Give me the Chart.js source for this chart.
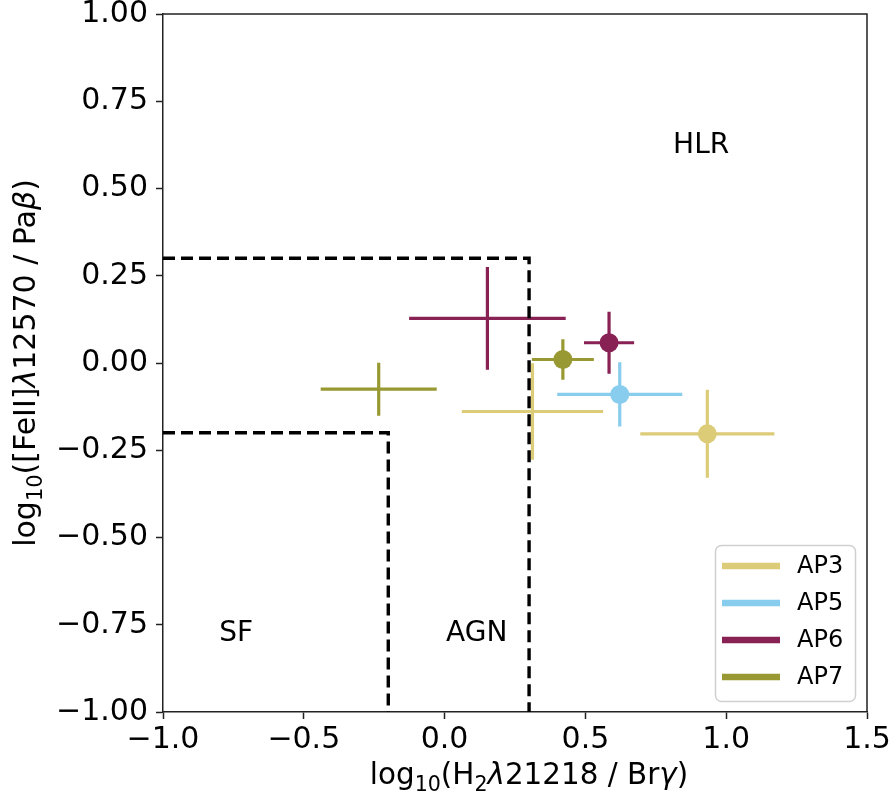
<!DOCTYPE html>
<html><head><meta charset="utf-8">
<script src="https://cdn.jsdelivr.net/npm/chart.js@4.4.0/dist/chart.umd.min.js"></script>
<style>html,body{margin:0;padding:0;background:#fff}#wrap{width:896px;height:800px}</style>
</head><body><div id="wrap"><canvas id="c" width="896" height="800"></canvas></div>
<script>
// Series: aperture measurements (value, 1-sigma error); first point of each has a marker
const seriesNames = ['AP3', 'AP5', 'AP6', 'AP7'];
const seriesColors = ['#DDCC77', '#88CCEE', '#882255', '#999933'];

const ap3X = [0.933, 0.312];
const ap3Y = [-0.203, -0.139];
const ap3XErr = [0.238, 0.251];
const ap3YErr = [0.126, 0.138];
const ap3Marker = [true, false];

const ap5X = [0.622];
const ap5Y = [-0.090];
const ap5XErr = [0.222];
const ap5YErr = [0.092];
const ap5Marker = [true];

const ap6X = [0.584, 0.152];
const ap6Y = [0.058, 0.128];
const ap6XErr = [0.089, 0.278];
const ap6YErr = [0.089, 0.147];
const ap6Marker = [true, false];

const ap7X = [0.420, -0.234];
const ap7Y = [0.010, -0.075];
const ap7XErr = [0.110, 0.206];
const ap7YErr = [0.058, 0.076];
const ap7Marker = [true, false];

// Classification boundaries
const agnBoundaryX = [-1.0, 0.3, 0.3];
const agnBoundaryY = [0.3, 0.3, -1.0];
const sfBoundaryX = [-1.0, -0.2, -0.2];
const sfBoundaryY = [-0.2, -0.2, -1.0];

// Region labels
const regionNames = ['HLR', 'SF', 'AGN'];
const regionX = [0.911, -0.740, 0.114];
const regionY = [0.624, -0.776, -0.776];

// Axis ticks
const xTickValues = [-1.0, -0.5, 0.0, 0.5, 1.0, 1.5];
const yTickValues = [-1.0, -0.75, -0.5, -0.25, 0.0, 0.25, 0.5, 0.75, 1.0];

const FONT = 'DejaVu Sans';
const TICK_SIZE = 30;

const seriesX = [ap3X, ap5X, ap6X, ap7X];
const seriesY = [ap3Y, ap5Y, ap6Y, ap7Y];
const seriesXErr = [ap3XErr, ap5XErr, ap6XErr, ap7XErr];
const seriesYErr = [ap3YErr, ap5YErr, ap6YErr, ap7YErr];
const seriesMarker = [ap3Marker, ap5Marker, ap6Marker, ap7Marker];

const minus = s => s.replace('-', '\u2212');

const datasets = [];
function boundary(xs, ys) {
  return {
    type: 'scatter', showLine: true, fill: false,
    data: xs.map((x, i) => ({x, y: ys[i]})),
    borderColor: '#000', borderWidth: 3.4, borderDash: [12, 6],
    pointRadius: 0, order: 2
  };
}
datasets.push(boundary(agnBoundaryX, agnBoundaryY));
datasets.push(boundary(sfBoundaryX, sfBoundaryY));
seriesNames.forEach((name, s) => {
  datasets.push({
    type: 'scatter', label: name,
    data: seriesX[s].map((x, i) => ({x, y: seriesY[s][i], xErr: seriesXErr[s][i], yErr: seriesYErr[s][i]})),
    backgroundColor: seriesColors[s], borderColor: seriesColors[s],
    pointRadius: seriesMarker[s].map(m => m ? 9.5 : 0),
    pointHoverRadius: seriesMarker[s].map(m => m ? 9.5 : 0),
    pointBorderWidth: 0, order: 1, errorSeries: true
  });
});

// Cross-shaped error bars for each measurement
const errorBars = {
  id: 'errorBars',
  beforeDatasetsDraw(chart) {
    const {ctx, scales: {x: xs, y: ys}} = chart;
    ctx.save();
    ctx.lineWidth = 3.2;
    ctx.lineCap = 'butt';
    chart.data.datasets.forEach(ds => {
      if (!ds.errorSeries) return;
      ctx.strokeStyle = ds.borderColor;
      ds.data.forEach(p => {
        const cx = xs.getPixelForValue(p.x), cy = ys.getPixelForValue(p.y);
        ctx.beginPath();
        ctx.moveTo(xs.getPixelForValue(p.x - p.xErr), cy);
        ctx.lineTo(xs.getPixelForValue(p.x + p.xErr), cy);
        ctx.moveTo(cx, ys.getPixelForValue(p.y + p.yErr));
        ctx.lineTo(cx, ys.getPixelForValue(p.y - p.yErr));
        ctx.stroke();
      });
    });
    ctx.restore();
  }
};

function drawRich(ctx, parts, size, x, y, align) {
  // parts: [text, kind] with kind '' | 'sub' | 'it'
  const fontFor = k => (k === 'it' ? 'italic ' : '') + (k === 'sub' ? Math.round(size * 0.7) : size) + 'px "' + FONT + '"';
  let w = 0;
  parts.forEach(([t, k]) => { ctx.font = fontFor(k); w += ctx.measureText(t).width; });
  let cx = align === 'center' ? x - w / 2 : x;
  ctx.textBaseline = 'alphabetic';
  ctx.textAlign = 'left';
  parts.forEach(([t, k]) => {
    ctx.font = fontFor(k);
    ctx.fillText(t, cx, k === 'sub' ? y + size * 0.22 : y);
    cx += ctx.measureText(t).width;
  });
  return w;
}

const annotations = {
  id: 'annotations',
  afterDraw(chart) {
    const {ctx, chartArea: a, scales: {x: xs, y: ys}} = chart;
    ctx.save();
    // top and right spines
    ctx.strokeStyle = '#222';
    ctx.lineWidth = 1.5;
    ctx.beginPath();
    ctx.moveTo(a.left, a.top); ctx.lineTo(a.right, a.top); ctx.lineTo(a.right, a.bottom);
    ctx.stroke();

    // region labels
    ctx.fillStyle = '#000';
    ctx.font = '28px "' + FONT + '"';
    ctx.textAlign = 'center';
    ctx.textBaseline = 'middle';
    regionNames.forEach((t, i) => ctx.fillText(t, xs.getPixelForValue(regionX[i]), ys.getPixelForValue(regionY[i])));

    // axis titles
    const xTitle = [['log', ''], ['10', 'sub'], ['(H', ''], ['2', 'sub'], ['\u03bb', 'it'], ['21218 / Br', ''], ['\u03b3', 'it'], [')', '']];
    ctx.save();
    ctx.translate((a.left + a.right) / 2 + 14, 784);
    ctx.scale(0.98, 1);
    drawRich(ctx, xTitle, 30, 0, 0, 'center');
    ctx.restore();

    const yTitle = [['log', ''], ['10', 'sub'], ['([FeII]', ''], ['\u03bb', 'it'], ['12570 / Pa', ''], ['\u03b2', 'it'], [')', '']];
    ctx.save();
    ctx.translate(35, (a.top + a.bottom) / 2);
    ctx.rotate(-Math.PI / 2);
    drawRich(ctx, yTitle, 30, 0, 0, 'center');
    ctx.restore();

    // legend
    const lx = 715.5, ly = 545.5, lw = 140, lh = 156, r = 6;
    ctx.fillStyle = 'rgba(255,255,255,0.8)';
    ctx.strokeStyle = '#d0d0d0';
    ctx.lineWidth = 1.5;
    ctx.beginPath();
    ctx.roundRect(lx, ly, lw, lh, r);
    ctx.fill(); ctx.stroke();
    seriesNames.forEach((n, i) => {
      const yy = 566 + i * 37;
      ctx.strokeStyle = seriesColors[i];
      ctx.lineWidth = 6.5;
      ctx.beginPath(); ctx.moveTo(722, yy); ctx.lineTo(780, yy); ctx.stroke();
      ctx.fillStyle = '#000';
      ctx.font = '24px "' + FONT + '"';
      ctx.textAlign = 'left';
      ctx.textBaseline = 'middle';
      ctx.fillText(n, 797, yy + 1);
    });
    ctx.restore();
  }
};

new Chart(document.getElementById('c'), {
  type: 'scatter',
  data: {datasets},
  options: {
    responsive: false, animation: false,
    layout: {padding: {left: 0, top: 14, right: 29, bottom: 0}},
    plugins: {legend: {display: false}, tooltip: {enabled: false}},
    scales: {
      x: {
        type: 'linear', min: -1.0, max: 1.5,
        afterBuildTicks: s => { s.ticks = xTickValues.map(v => ({value: v})); },
        afterFit: s => { s.height = 88; s.paddingLeft = 0; s.paddingRight = 0; },
        ticks: {callback: v => minus(v.toFixed(1)), color: '#000', font: {family: FONT, size: TICK_SIZE}, padding: 3, maxRotation: 0},
        grid: {drawOnChartArea: false, drawTicks: true, tickLength: 7, tickWidth: 1.5, tickColor: '#222'},
        border: {display: true, color: '#222', width: 1.5}
      },
      y: {
        type: 'linear', min: -1.0, max: 1.0,
        afterBuildTicks: s => { s.ticks = yTickValues.map(v => ({value: v})); },
        afterFit: s => { s.width = 163; s.paddingTop = 0; s.paddingBottom = 0; },
        ticks: {callback: v => minus(v.toFixed(2)), color: '#000', font: {family: FONT, size: TICK_SIZE}, padding: 8},
        grid: {drawOnChartArea: false, drawTicks: true, tickLength: 7, tickWidth: 1.5, tickColor: '#222'},
        border: {display: true, color: '#222', width: 1.5}
      }
    }
  },
  plugins: [errorBars, annotations]
});
</script>
</body></html>
